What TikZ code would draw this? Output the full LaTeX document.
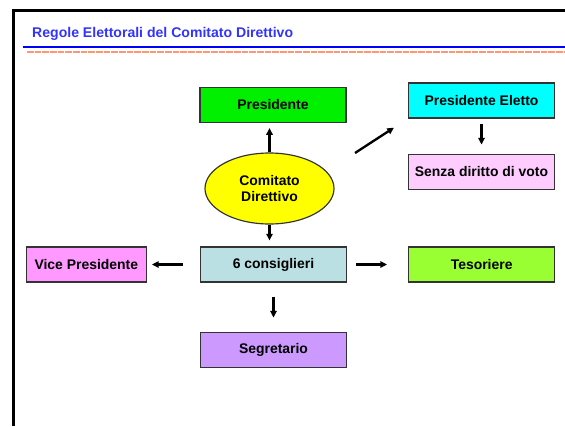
\documentclass[tikz,border=0pt]{standalone}
\usepackage{fontspec}
\setmainfont{Liberation Sans}
\usetikzlibrary{arrows.meta,positioning,shapes.geometric}
\definecolor{titblue}{RGB}{51,51,255}
\definecolor{rulblue}{RGB}{0,0,255}
\definecolor{salmon}{RGB}{255,150,120}
\definecolor{cpres}{RGB}{0,240,0}
\definecolor{celet}{RGB}{0,255,255}
\definecolor{csenza}{RGB}{255,204,255}
\definecolor{cvice}{RGB}{255,153,255}
\definecolor{ccons}{RGB}{187,224,227}
\definecolor{ctes}{RGB}{153,255,51}
\definecolor{csegr}{RGB}{204,153,255}
\definecolor{ccom}{RGB}{255,255,0}

\begin{document}
\begin{tikzpicture}[
    box/.style={draw=black!80, line width=0.035cm, fill=#1,
                minimum width=4.38cm, minimum height=1.05cm, inner sep=0pt,
                font=\fontsize{11.9}{14.3}\selectfont\bfseries, align=center},
    arr/.style={-{Triangle[length=0.2cm,width=0.19cm]}, line width=0.07cm},
    node distance=1.05cm]

    \useasboundingbox (0,0) rectangle (16.95,-12.78);

    % slide frame and title
    \draw[line width=0.09cm] (0.39,-12.78) |- (16.95,-0.32);
    \node[anchor=base west, inner sep=0pt, text=titblue,
          font=\fontsize{12}{14}\selectfont\bfseries] (titolo) at (0.96,-1.11)
          {Regole Elettorali del Comitato Direttivo};
    \draw[rulblue, line width=0.06cm] (0.68,-1.42) -- (16.95,-1.42);
    \draw[salmon, line width=0.07cm, dash pattern=on 0.2cm off 0.03cm] (0.81,-1.56) -- (16.95,-1.56);

    % top row
    \node[box=cpres] (pres) at (8.19,-3.15) {Presidente};
    \node[box=celet] (eletto) at (14.445,-3.015) {Presidente Eletto};
    \node[box=csenza, below=of eletto] (senza) {Senza diritto di voto};
    \node[ellipse, draw=black!80, line width=0.035cm, fill=ccom,
          minimum width=3.87cm, minimum height=2.13cm, inner sep=0pt,
          font=\fontsize{11.9}{14.3}\selectfont\bfseries, align=center]
          (comitato) at (8.085,-5.655) {Comitato\\Direttivo};

    % middle row
    \node[box=ccons] (cons) at (8.205,-7.935) {6 consiglieri};
    \node[box=cvice, left=1.59cm of cons, minimum width=3.6cm] (vice) {Vice Presidente};
    \node[box=ctes, right=1.83cm of cons] (tes) {Tesoriere};
    \node[box=csegr, below=1.47cm of cons] (segr) {Segretario};

    % arrows
    \coordinate (d1) at (10.65,-4.59);
    \draw[arr, shorten >=0.15cm] (comitato.north) -- (comitato.north |- pres.south);
    \draw[arr, shorten >=0.5cm] (d1) -- (eletto.south west);
    \draw[arr, shorten <=0.15cm, shorten >=0.27cm] (eletto) -- (senza);
    \draw[arr, shorten >=0.18cm] (comitato.south) -- (comitato.south |- cons.north);
    \draw[arr, shorten <=0.51cm, shorten >=0.15cm] (cons) -- (vice);
    \draw[arr, shorten <=0.27cm, shorten >=0.63cm] (cons) -- (tes);
    \draw[arr, shorten <=0.42cm, shorten >=0.42cm] (cons) -- (segr);
\end{tikzpicture}
\end{document}
